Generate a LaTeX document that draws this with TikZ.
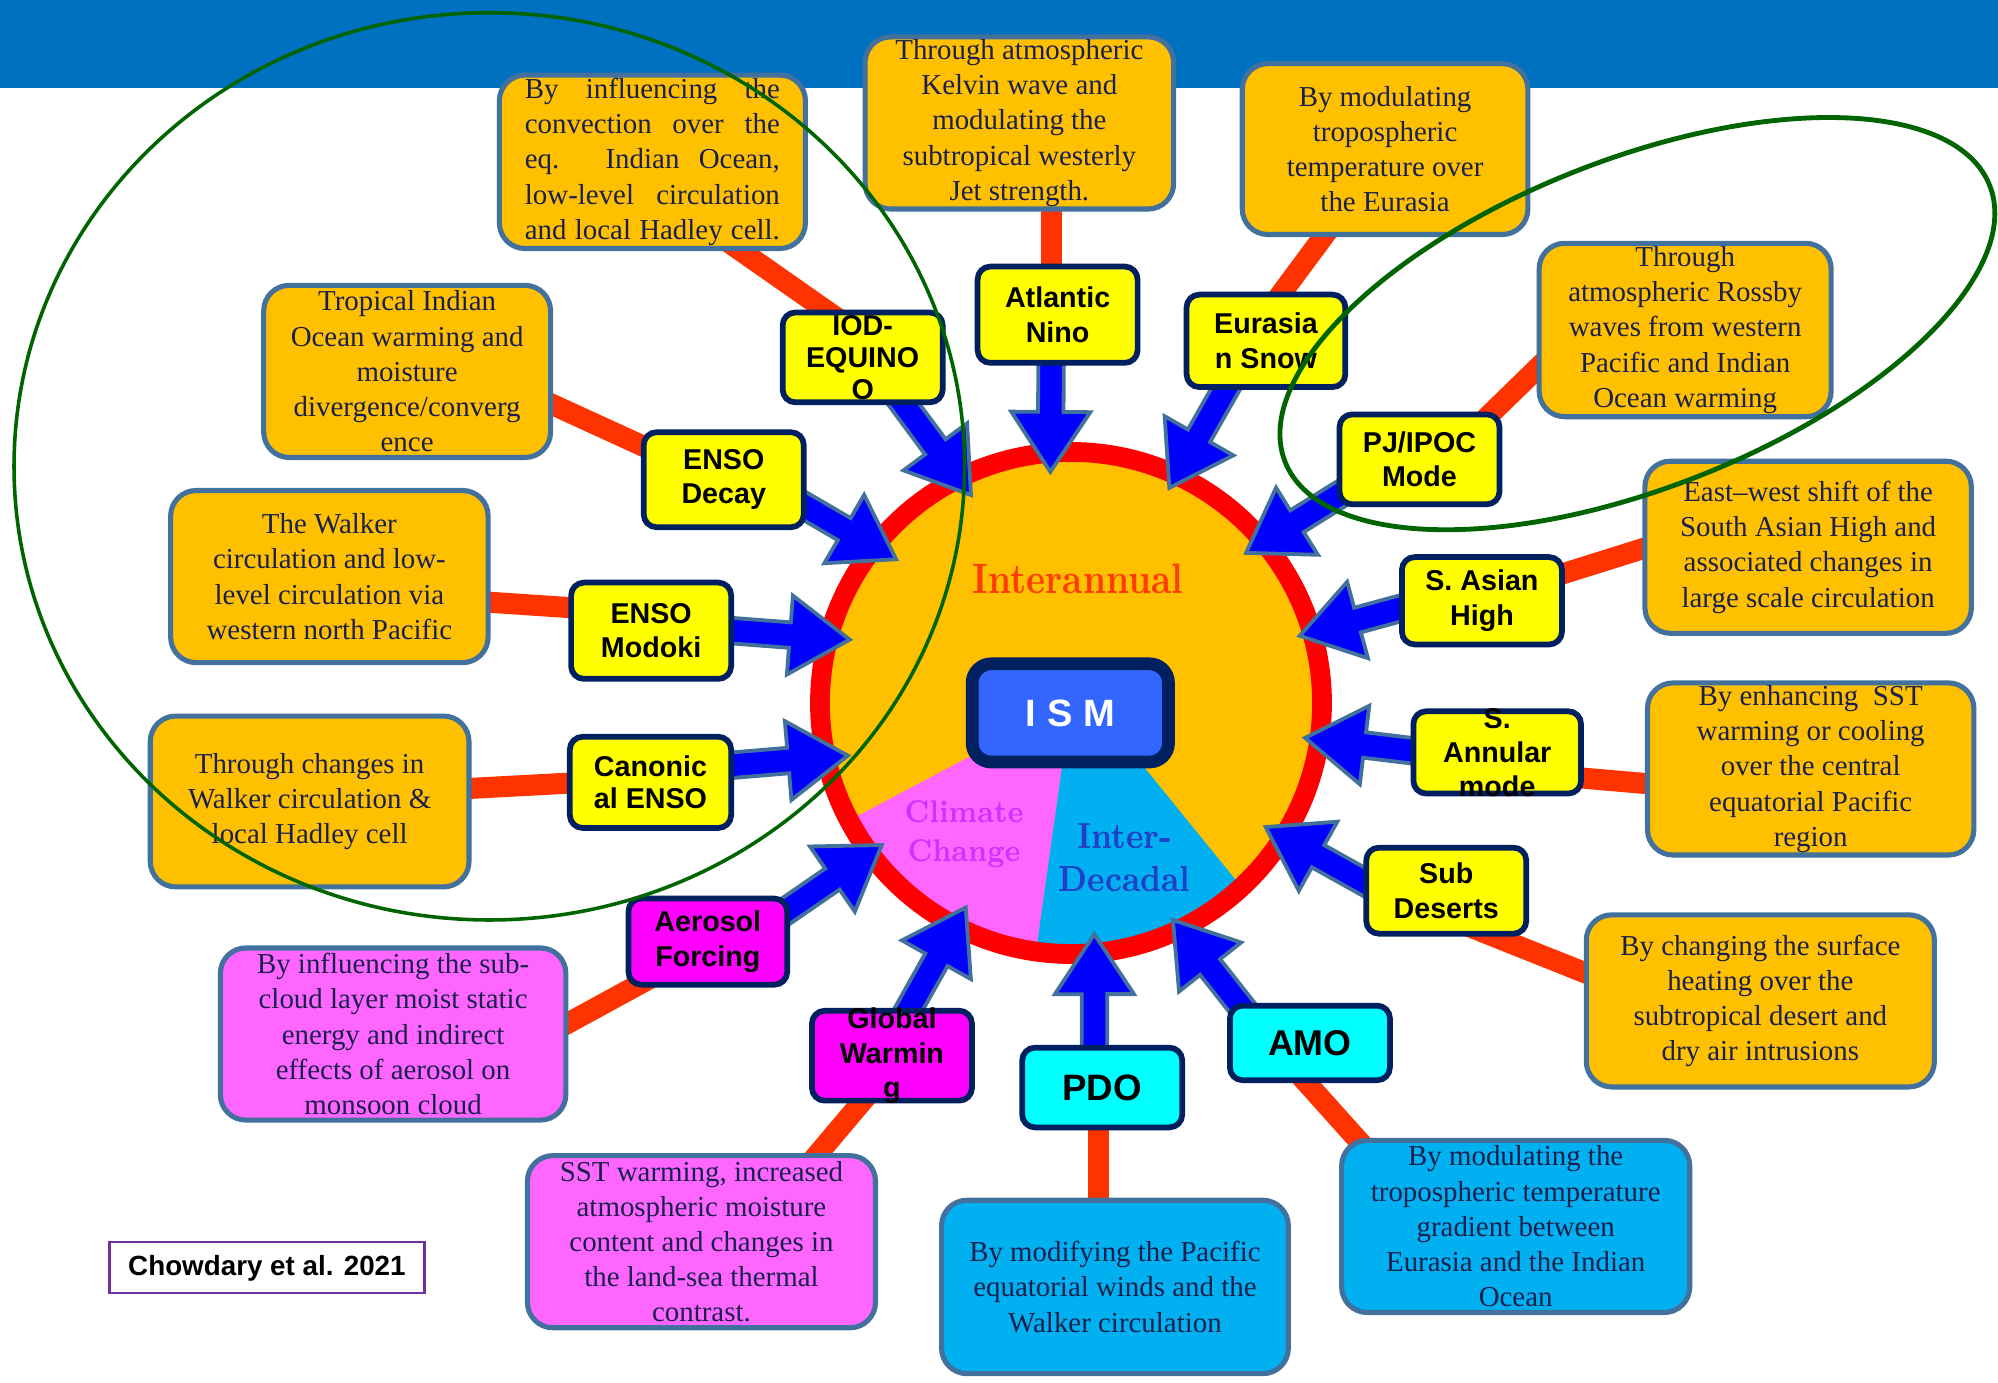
\documentclass[tikz,border=0pt]{standalone}
\usepackage{fontspec}
\usepackage{graphicx}
\newfontfamily\tnr{Liberation Serif}
\newfontfamily\ari{Liberation Sans}
\usetikzlibrary{calc}
\pgfdeclarelayer{back}
\pgfdeclarelayer{mid}
\pgfsetlayers{back,mid,main}
\definecolor{hdr}{HTML}{0070C0}
\definecolor{org}{HTML}{FFC000}
\definecolor{pinkf}{HTML}{FF66FF}
\definecolor{skyf}{HTML}{00B0F0}
\definecolor{yel}{HTML}{FFFF00}
\definecolor{mag}{HTML}{FF00FF}
\definecolor{cya}{HTML}{00FFFF}
\definecolor{navyb}{HTML}{002060}
\definecolor{steel}{HTML}{41719C}
\definecolor{conc}{HTML}{FF3300}
\definecolor{arrb}{HTML}{0000FF}
\definecolor{dtxt}{HTML}{1A1F4D}
\definecolor{ismf}{HTML}{3366FF}
\definecolor{icol}{HTML}{FF3C00}
\definecolor{ccol}{HTML}{CC33FF}
\definecolor{dcol}{HTML}{2040C8}
\definecolor{grn}{HTML}{006400}
\definecolor{purp}{HTML}{7030A0}
\tikzset{
 desc/.style={draw=steel, line width=0.04cm, rounded corners=0.2cm, inner sep=0pt, align=center, text=dtxt, font=\tnr\fontsize{6.45}{7.85}\selectfont},
 labbox/.style={draw=navyb, line width=0.045cm, rounded corners=0.1cm, inner sep=0pt},
 labtxt/.style={align=center, inner sep=0pt, text=black, font=\ari\bfseries\fontsize{6.4}{7.68}\selectfont},
 conn/.style={draw=conc, line width=0.165cm},
 blockarr/.style={fill=arrb, draw=steel, line width=0.03cm, line join=miter},
 ring/.style={draw=red, line width=0.155cm},
 ovalline/.style={draw=grn},
}
\newcommand\isarrow[2]{%
  \coordinate (aT) at (#1);
  \coordinate (aP) at (#2);
  \coordinate (aH) at ($(aP)!0.47cm!(aT)$);
  \filldraw[blockarr] ($(aT)!0.1cm!90:(aP)$) -- ($(aH)!0.1cm!90:(aP)$) -- ($(aH)!0.31cm!90:(aP)$) -- (aP) -- ($(aH)!0.31cm!-90:(aP)$) -- ($(aH)!0.1cm!-90:(aP)$) -- ($(aT)!0.1cm!-90:(aP)$) -- cycle;}
\begin{document}
\begin{tikzpicture}[x=0.01cm,y=0.01cm]
\useasboundingbox (0,0) rectangle (1568,1085);
\begin{pgfonlayer}{back}
\fill[white] (0,0) rectangle (1568,1085);
\fill[hdr] (0,1015.7) rectangle (1568,1085);
\fill[org] (840.5,533.3) circle[radius=197];
\fill[pinkf] (840.5,533.3) -- ++(207.9:197) arc[start angle=207.9,end angle=262,radius=197] -- cycle;
\fill[skyf] (840.5,533.3) -- ++(262:197) arc[start angle=262,end angle=312.8,radius=197] -- (857,533.3) -- cycle;
\draw[ring] (840.5,533.3) circle[radius=197];
\end{pgfonlayer}

% circle texts
\node[text=icol, inner sep=0pt, font=\bfseries\fontsize{9.5}{11}\selectfont] (tInter) at (846,630.5) {\scalebox{0.85}[1]{Interannual}};
\node[text=ccol, inner sep=0pt, align=center, font=\bfseries\fontsize{7}{8.76}\selectfont] (tClim) at (756.5,430.3) {\scalebox{0.85}[1]{Climate}\\\scalebox{0.85}[1]{Change}};
\node[text=dcol, inner sep=0pt, align=center, font=\bfseries\fontsize{8.1}{9.6}\selectfont] (tDec) at (882.6,412) {\scalebox{0.85}[1]{Inter-}\\\scalebox{0.85}[1]{Decadal}};
\node[draw=navyb, line width=0.1cm, fill=ismf, rounded corners=0.15cm, minimum width=1.54cm, minimum height=0.77cm, text=white, font=\ari\bfseries\fontsize{8.5}{10}\selectfont] (ISM) at (840,525.5) {I S M};

% description boxes
\node[desc, fill=org, minimum width=2.40cm, minimum height=1.36cm] (dA) at (512,958) {\makebox[2cm][s]{By influencing the}\\\makebox[2cm][s]{convection over the}\\\makebox[2cm][s]{eq. Indian Ocean,}\\\makebox[2cm][s]{low-level circulation}\\\makebox[2cm][s]{and local Hadley cell.}};
\node[desc, fill=org, minimum width=2.42cm, minimum height=1.35cm] (dB) at (800,988.5) {Through atmospheric\\Kelvin wave and\\modulating the\\subtropical westerly\\Jet strength.};
\node[desc, fill=org, minimum width=2.24cm, minimum height=1.34cm] (dC) at (1087,968) {By modulating\\tropospheric\\temperature over\\the Eurasia};
\node[desc, fill=org, minimum width=2.29cm, minimum height=1.36cm] (dD) at (1322.5,826) {Through\\atmospheric Rossby\\waves from western\\Pacific and Indian\\Ocean warming};
\node[desc, fill=org, minimum width=2.25cm, minimum height=1.35cm] (dE) at (319.5,793.5) {Tropical Indian\\Ocean warming and\\moisture\\divergence/converg\\ence};
\node[desc, fill=org, minimum width=2.49cm, minimum height=1.35cm] (dF) at (258.5,632.5) {The Walker\\circulation and low-\\level circulation via\\western north Pacific};
\node[desc, fill=org, minimum width=2.56cm, minimum height=1.35cm] (dG) at (1419,655.5) {East–west shift of the\\South Asian High and\\associated changes in\\large scale circulation};
\node[desc, fill=org, minimum width=2.50cm, minimum height=1.34cm] (dH) at (243,456) {Through changes in\\Walker circulation \&\\local Hadley cell};
\node[desc, fill=org, minimum width=2.56cm, minimum height=1.35cm] (dI) at (1421,481.5) {By enhancing~ SST\\warming or cooling\\over the central\\equatorial Pacific\\region};
\node[desc, fill=pinkf, minimum width=2.71cm, minimum height=1.35cm] (dJ) at (308.5,273.5) {By influencing the sub-\\cloud layer moist static\\energy and indirect\\effects of aerosol on\\monsoon cloud};
\node[desc, fill=org, minimum width=2.73cm, minimum height=1.35cm] (dK) at (1381.5,299.5) {By changing the surface\\heating over the\\subtropical desert and\\dry air intrusions};
\node[desc, fill=pinkf, minimum width=2.73cm, minimum height=1.35cm] (dL) at (550.5,110.5) {SST warming, increased\\atmospheric moisture\\content and changes in\\the land-sea thermal\\contrast.};
\node[desc, fill=skyf, minimum width=2.72cm, minimum height=1.36cm] (dM) at (875,75) {By modifying the Pacific\\equatorial winds and the\\Walker circulation};
\node[desc, fill=skyf, minimum width=2.73cm, minimum height=1.35cm] (dN) at (1189.5,122.5) {By modulating the\\tropospheric temperature\\gradient between\\Eurasia and the Indian\\Ocean};

% label boxes
\node[labbox, fill=yel, minimum width=1.255cm, minimum height=0.705cm] (IOD) at (677,804.5) {};
\node[labtxt, font=\ari\bfseries\fontsize{6.4}{7.1}\selectfont] at (IOD) {IOD-\\EQUINO\\O};
\node[labbox, fill=yel, minimum width=1.255cm, minimum height=0.755cm] (Atl) at (830,838) {};
\node[labtxt] at (Atl) {Atlantic\\Nino};
\node[labbox, fill=yel, minimum width=1.245cm, minimum height=0.725cm] (Eur) at (993.5,817.5) {};
\node[labtxt] at (Eur) {Eurasia\\n Snow};
\node[labbox, fill=yel, minimum width=1.255cm, minimum height=0.705cm] (PJ) at (1114,724.5) {};
\node[labtxt] at (PJ) {PJ/IPOC\\Mode};
\node[labbox, fill=yel, minimum width=1.255cm, minimum height=0.745cm] (Decay) at (568,708.5) {};
\node[labtxt] at (Decay) {ENSO\\Decay};
\node[labbox, fill=yel, minimum width=1.255cm, minimum height=0.755cm] (Modoki) at (511,590) {};
\node[labtxt] at (Modoki) {ENSO\\Modoki};
\node[labbox, fill=yel, minimum width=1.265cm, minimum height=0.715cm] (Canon) at (510.5,471) {};
\node[labtxt, font=\ari\bfseries\fontsize{6.4}{7.1}\selectfont] at (Canon) {Canonic\\al ENSO};
\node[labbox, fill=yel, minimum width=1.255cm, minimum height=0.685cm] (SAH) at (1163,613.5) {};
\node[labtxt] at (SAH) {S. Asian\\High};
\node[labbox, fill=yel, minimum width=1.315cm, minimum height=0.645cm] (SAM) at (1175,494.5) {};
\node[labtxt, font=\ari\bfseries\fontsize{6.4}{7.54}\selectfont] at (SAM) {S.\\Annular\\mode};
\node[labbox, fill=yel, minimum width=1.255cm, minimum height=0.675cm] (SubD) at (1135,386) {};
\node[labtxt] at (SubD) {Sub\\Deserts};
\node[labbox, fill=mag, minimum width=1.245cm, minimum height=0.675cm] (Aer) at (555.5,346) {};
\node[labtxt] at (Aer) {Aerosol\\Forcing};
\node[labbox, fill=mag, minimum width=1.255cm, minimum height=0.705cm] (GW) at (700,256.5) {};
\node[labtxt] at (GW) {Global\\Warmin\\g};
\node[labbox, fill=cya, minimum width=1.255cm, minimum height=0.625cm] (PDO) at (865,231.5) {};
\node[labtxt, font=\ari\bfseries\fontsize{8.2}{9}\selectfont] at (PDO) {PDO};
\node[labbox, fill=cya, minimum width=1.255cm, minimum height=0.585cm] (AMO) at (1028,266.5) {};
\node[labtxt, font=\ari\bfseries\fontsize{8}{9}\selectfont] at (AMO) {AMO};

\node[draw=purp, line width=0.5pt, fill=white, minimum width=2.47cm, minimum height=0.40cm, inner sep=0pt, font=\ari\bfseries\fontsize{6.2}{7}\selectfont] (cite) at (209.5,90) {Chowdary et al. 2021};

% arrow tips on the ring
\coordinate (tIOD) at (762,696.5);
\coordinate (tAtl) at (824.3,714.7);
\coordinate (tEur) at (917.7,702.1);
\coordinate (tPJ) at (977.9,651.1);
\coordinate (tDecay) at (703.2,646.1);
\coordinate (tModoki) at (666.8,583);
\coordinate (tCanon) at (665.4,492);
\coordinate (tSAH) at (1020,586);
\coordinate (tSAM) at (1024.2,505.9);
\coordinate (tSubD) at (993.3,435.9);
\coordinate (tAMO) at (920.5,363);
\coordinate (tPDO) at (858.8,351.8);
\coordinate (tGW) at (757.9,372.8);
\coordinate (tAer) at (692,421.8);

\begin{pgfonlayer}{back}
\draw[conn] ($(dA)+(41,-50)$) -- ($(IOD)+(-1,17.5)$);
\draw[conn] ($(dB)+(25,-53.5)$) -- ($(Atl)+(-5,27)$);
\draw[conn] ($(dC)+(-34.5,-50)$) -- ($(Eur)+(-0.8,19.9)$);
\draw[conn] ($(dD)+(-97.5,-12)$) -- ($(PJ)+(36,16.5)$);
\draw[conn] ($(dE)+(84.5,-12.5)$) -- ($(Decay)+(-33,12.5)$);
\draw[conn] ($(dF)+(96.5,-18.2)$) -- ($(Modoki)+(-38,16.4)$);
\draw[conn] ($(dH)+(97,8.7)$) -- ($(Canon)+(-37.5,0.8)$);
\draw[conn] ($(dG)+(-101,7.9)$) -- ($(SAH)+(37,12.9)$);
\draw[conn] ($(dI)+(-101,-13.9)$) -- ($(SAM)+(40,-17.8)$);
\draw[conn] ($(dK)+(-109.5,10.9)$) -- ($(SubD)+(5,-23)$);
\draw[conn] ($(AMO)+(-18,-14.1)$) -- ($(dN)+(-105.5,47.5)$);
\draw[conn] ($(dM)+(-12.6,50)$) -- ($(PDO)+(-2.6,-16.5)$);
\draw[conn] ($(dL)+(77.5,52.5)$) -- ($(GW)+(-12,-22.5)$);
\draw[conn] ($(dJ)+(111.5,-5.5)$) -- ($(Aer)+(-25.5,-18)$);
\end{pgfonlayer}

\begin{pgfonlayer}{mid}
\isarrow{$(IOD)+(21,-21.5)$}{tIOD}
\isarrow{$(Atl)+(-5,-23)$}{tAtl}
\isarrow{$(Eur)+(-23.5,-23.5)$}{tEur}
\isarrow{$(PJ)+(-39,-13)$}{tPJ}
\isarrow{$(Decay)+(40,-7)$}{tDecay}
\isarrow{$(Modoki)+(34,2.3)$}{tModoki}
\isarrow{$(Canon)+(34.5,11)$}{tCanon}
\isarrow{$(SAH)+(-33,2.5)$}{tSAH}
\isarrow{$(SAM)+(-35,-2.5)$}{tSAM}
\isarrow{$(SubD)+(-35,-9.5)$}{tSubD}
\isarrow{$(AMO)+(-38,8.5)$}{tAMO}
\isarrow{$(PDO)+(-6,3.5)$}{tPDO}
\isarrow{$(GW)+(3,18.5)$}{tGW}
\isarrow{$(Aer)+(39.5,9)$}{tAer}
\end{pgfonlayer}

% green ovals
\draw[ovalline, line width=0.028cm] (384,719) ellipse[x radius=373, y radius=356];
\draw[ovalline, line width=0.038cm, rotate around={21.4:(1285,831)}] (1285,831) ellipse[x radius=297, y radius=129];
\end{tikzpicture}
\end{document}
